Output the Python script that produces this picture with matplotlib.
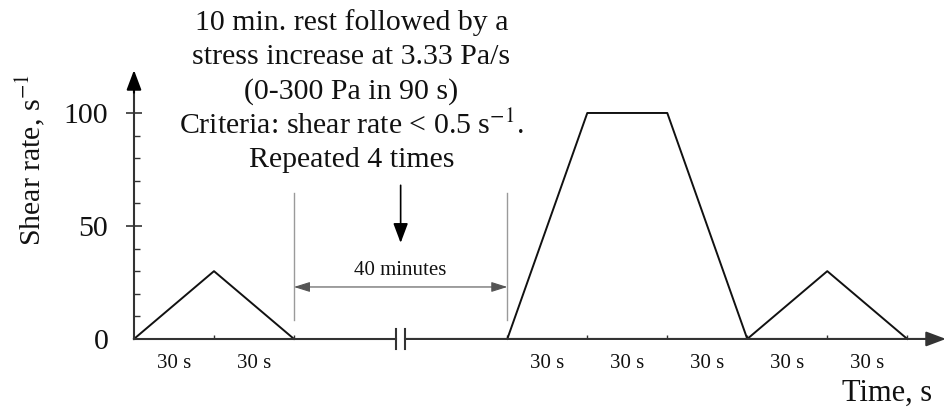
import matplotlib.pyplot as plt
import numpy as np
from matplotlib.ticker import FixedLocator, NullFormatter

# shear-rate protocol, schematic time axis (s); the rest period is drawn compressed
rest_time = [0, 30, 60]
rest_rate = [0, 30, 0]
test_time = [140, 170, 200, 230, 260, 290]
test_rate = [0, 100, 100, 0, 30, 0]
step_label = "30 s"

y_major = [0, 50, 100]
y_minor = [10, 20, 30, 40, 60, 70, 80, 90]

note_lines = [
    "10 min. rest followed by a",
    "stress increase at 3.33 Pa/s",
    "(0-300 Pa in 90 s)",
    r"Criteria: shear rate < 0.5 s$^{-1}$.",
    "Repeated 4 times",
]
gap_label = "40 minutes"

plt.rcParams["font.family"] = "Liberation Serif"
plt.rcParams["mathtext.fontset"] = "stix"

ink = "#111111"
axis_col = "#333333"
guide_col = "#9a9a9a"
big = 21.5
small = 15

fig = plt.figure(figsize=(9.47, 4.09), dpi=100)
ax = fig.add_axes([0, 0, 1, 1])
ax.set_xlim(-50.25, 304.9)
ax.set_ylim(-31, 150)

# curve
ax.plot(rest_time, rest_rate, color=ink, lw=1.4)
ax.plot(test_time, test_rate, color=ink, lw=1.4)

# axes through the origin
break_lo, break_hi = 98.3, 101.6
x_end, y_end = 304.5, 119
for side in ["top", "right"]:
    ax.spines[side].set_visible(False)
ax.spines["left"].set_position(("data", 0))
ax.spines["bottom"].set_position(("data", 0))
ax.spines["left"].set_bounds(0, y_end - 5)
ax.spines["bottom"].set_bounds(0, break_lo)
for side in ["left", "bottom"]:
    ax.spines[side].set_color(axis_col)
    ax.spines[side].set_linewidth(1.5)

head = dict(arrowstyle="-|>,head_length=0.8,head_width=0.3", color="black",
            lw=1.5, mutation_scale=15, shrinkA=0, shrinkB=0)
ax.annotate("", xy=(0, y_end), xytext=(0, y_end - 10), arrowprops=head)
ax.annotate("", xy=(x_end, 0), xytext=(break_hi, 0),
            arrowprops=dict(head, color=axis_col))
for xb in (break_lo, break_hi):
    ax.plot([xb, xb], [-4.4, 4.4], color=axis_col, lw=1.5)

# y ticks
ax.yaxis.set_major_locator(FixedLocator(y_major))
ax.yaxis.set_minor_locator(FixedLocator(y_minor))
ax.tick_params(axis="y", which="major", direction="inout", length=12, width=1.2,
               color=axis_col, labelsize=big, labelcolor=ink, pad=12.5)
ax.tick_params(axis="y", which="minor", direction="in", length=4, width=1,
               color=axis_col)
ax.yaxis.get_major_ticks()[0].tick1line.set_visible(False)

# x ticks at step boundaries, step labels between them
bounds = rest_time[1:] + test_time
mids = [(a + b) / 2 for a, b in zip(rest_time[:-1], rest_time[1:])]
mids += [(a + b) / 2 for a, b in zip(test_time[:-1], test_time[1:])]
ax.xaxis.set_major_locator(FixedLocator(bounds))
ax.xaxis.set_major_formatter(NullFormatter())
ax.xaxis.set_minor_locator(FixedLocator(mids))
ax.set_xticklabels([step_label] * len(mids), minor=True)
ax.tick_params(axis="x", which="major", direction="in", length=3, width=1,
               color=axis_col)
ax.tick_params(axis="x", which="minor", length=0, labelsize=small,
               labelcolor=ink, pad=10.5)

ax.text(-39, 79, r"Shear rate, s$^{-1}$", rotation=90, ha="center",
        va="center", fontsize=big, color=ink)
ax.text(282.5, -24, "Time, s", ha="center", va="center", fontsize=big + 0.5,
        color=ink)

# rest-period markers
guide_x = [rest_time[-1], test_time[0]]
for gx in guide_x:
    ax.plot([gx, gx], [8.5, 64.6], color=guide_col, lw=1)
ax.annotate("", xy=(guide_x[0], 23), xytext=(guide_x[1], 23),
            arrowprops=dict(arrowstyle="<|-|>,head_length=0.7,head_width=0.22",
                            color="#555555", lw=0.8, mutation_scale=14,
                            shrinkA=0, shrinkB=0))
mid_gap = np.mean(guide_x)
ax.text(mid_gap, 30.5, gap_label, ha="center", va="center", fontsize=small,
        color=ink)
ax.annotate("", xy=(mid_gap, 42.5), xytext=(mid_gap, 68),
            arrowprops=dict(arrowstyle="-|>,head_length=0.8,head_width=0.3",
                            color="black", lw=1.2, mutation_scale=15,
                            shrinkA=0, shrinkB=0))

# protocol description
for i, line in enumerate(note_lines):
    ax.text(81.5, 140 - 15.2 * i, line, ha="center", va="center",
            fontsize=big, color=ink)

fig.savefig("out.png", dpi=100)
